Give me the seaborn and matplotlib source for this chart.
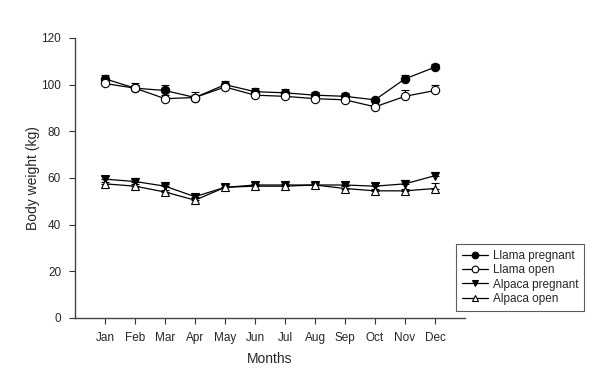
import numpy as np
import pandas as pd
import matplotlib
matplotlib.use('Agg')
import matplotlib.pyplot as plt
import seaborn as sns

# Data
months = ['Jan', 'Feb', 'Mar', 'Apr', 'May', 'Jun', 'Jul', 'Aug', 'Sep', 'Oct', 'Nov', 'Dec']
llama_pregnant = [102.5, 98.5, 97.5, 94.5, 100.0, 97.0, 96.5, 95.5, 95.0, 93.5, 102.5, 107.5]
llama_pregnant_se = [1.5, 1.5, 2.5, 1.0, 1.5, 1.5, 1.5, 1.5, 1.5, 1.0, 1.5, 1.5]
llama_open = [100.5, 98.5, 94.0, 94.5, 99.0, 95.5, 95.0, 94.0, 93.5, 90.5, 95.0, 97.5]
llama_open_se = [1.0, 2.0, 1.5, 2.5, 1.0, 1.0, 1.0, 1.0, 1.0, 1.0, 2.5, 2.5]
alpaca_pregnant = [59.5, 58.5, 56.5, 52.0, 56.0, 57.0, 57.0, 57.0, 57.0, 56.5, 57.5, 61.0]
alpaca_pregnant_se = [1.5, 1.5, 1.0, 1.0, 1.5, 1.5, 1.5, 1.5, 1.5, 1.5, 1.5, 1.5]
alpaca_open = [57.5, 56.5, 54.0, 50.5, 56.0, 56.5, 56.5, 57.0, 55.5, 54.5, 54.5, 55.5]
alpaca_open_se = [1.0, 1.0, 1.0, 1.0, 1.0, 1.0, 1.0, 1.0, 1.0, 1.0, 1.0, 2.5]

series = [
    ('Llama pregnant', llama_pregnant, llama_pregnant_se, 'o', 'black'),
    ('Llama open', llama_open, llama_open_se, 'o', 'white'),
    ('Alpaca pregnant', alpaca_pregnant, alpaca_pregnant_se, 'v', 'black'),
    ('Alpaca open', alpaca_open, alpaca_open_se, '^', 'white'),
]

sns.set_style('ticks')
plt.rcParams['font.family'] = ['Liberation Sans', 'DejaVu Sans']

fig = plt.figure(figsize=(6.12, 3.83), dpi=100)
ax = fig.add_axes([75 / 612, 65 / 383, 390 / 612, 280 / 383])

x = np.arange(1, len(months) + 1)
for name, vals, se, mk, fc in series:
    # one-sided error bars (upper only)
    ax.errorbar(x, vals, yerr=[np.zeros(len(se)), se], fmt='none',
                ecolor='black', elinewidth=0.8, capsize=3, capthick=0.8, zorder=2)
    df = pd.DataFrame({'month': x, 'value': vals})
    sns.lineplot(data=df, x='month', y='value', ax=ax, color='black', linewidth=0.9,
                 marker=mk, markersize=6, markerfacecolor=fc, markeredgecolor='black',
                 markeredgewidth=0.8, label=name, zorder=3)

ax.set_xlim(0, 13)
ax.set_ylim(0, 120)
ax.set_xticks(x)
ax.set_xticklabels(months)
ax.set_yticks(np.arange(0, 121, 20))
ax.tick_params(axis='both', labelsize=8.5, length=4, width=0.8, color='#333333', pad=6)
ax.set_xlabel('Months', fontsize=10, labelpad=6)
ax.set_ylabel('Body weight (kg)', fontsize=10, labelpad=1)
for s in ['left', 'bottom']:
    ax.spines[s].set_color('#444444')
    ax.spines[s].set_linewidth(1.0)
sns.despine(ax=ax)

leg = ax.legend(loc='upper left', bbox_to_anchor=(450 / 612, 1 - 238 / 383),
                bbox_transform=fig.transFigure, frameon=True, fancybox=False,
                fontsize=8.5, handlelength=2.2, handletextpad=0.4, borderpad=0.5,
                labelspacing=0.2, markerscale=0.8)
leg.get_frame().set_edgecolor('#333333')
leg.get_frame().set_linewidth(0.8)

fig.savefig('out.png', dpi=100)
